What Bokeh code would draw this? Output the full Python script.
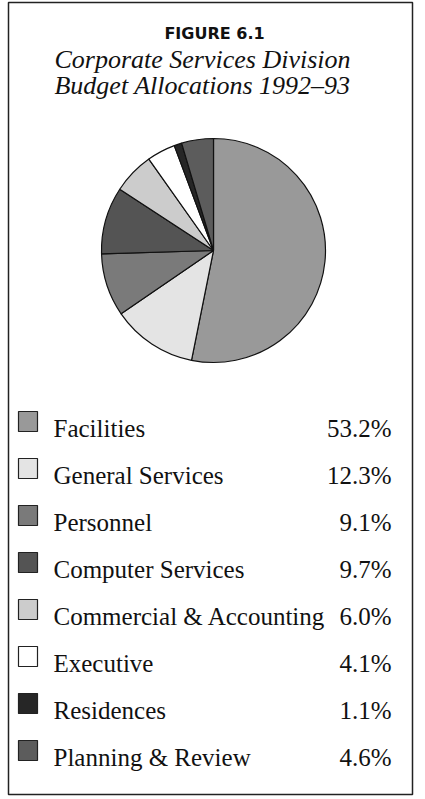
import math
from bokeh.plotting import figure
from bokeh.models import ColumnDataSource, Range1d
from bokeh.core.properties import value
from bokeh.embed import file_html
from bokeh.resources import INLINE

# ---- data ----
figure_label = "FIGURE 6.1"
title_lines = ["Corporate Services Division", "Budget Allocations 1992–93"]
categories = ["Facilities", "General Services", "Personnel", "Computer Services",
              "Commercial & Accounting", "Executive", "Residences", "Planning & Review"]
shares = [53.2, 12.3, 9.1, 9.7, 6.0, 4.1, 1.1, 4.6]

# ---- style ----
fills = ["#999999", "#e4e4e4", "#7a7a7a", "#545454", "#cccccc", "#ffffff", "#262626", "#5c5c5c"]

W, H = 425, 799


def X(rx):
    return rx


def Y(ry):
    return H - ry


total = sum(shares)
starts, ends = [], []
cum = 0.0
for s in shares:
    starts.append(math.pi / 2 - 2 * math.pi * cum / total)
    cum += s
    ends.append(math.pi / 2 - 2 * math.pi * cum / total)

n = len(categories)
row_gap = 47
src = ColumnDataSource(dict(
    cat=categories,
    pct=[f"{v:.1f}%" for v in shares],
    start=starts,
    end=ends,
    fill=fills,
    sy=[Y(421 + row_gap * i) for i in range(n)],
    by=[Y(428 + row_gap * i) for i in range(n)],
))

p = figure(width=W, height=H, x_range=Range1d(0, W), y_range=Range1d(0, H),
           output_backend="svg", toolbar_location=None, min_border=0,
           x_axis_location=None, y_axis_location=None)
p.grid.visible = False
p.outline_line_color = None
p.background_fill_color = "white"
p.border_fill_color = "white"

# frame
p.quad(left=[X(8)], right=[X(412)], top=[Y(2)], bottom=[Y(794)], fill_color=None,
       line_color="#222222", line_width=1.5)

# heading
p.text(x=[X(214)], y=[Y(33)], text=[figure_label], text_font=value("DejaVu Sans"),
       text_font_style="bold", text_font_size="16px", text_align="center",
       text_baseline="alphabetic", text_color="#111111")
for i, line in enumerate(title_lines):
    p.text(x=[X(202)], y=[Y(59 + 26 * i)], text=[line], text_font=value("Liberation Serif"),
           text_font_style="italic", text_font_size="26px", text_align="center",
           text_baseline="alphabetic", text_color="#111111")

# pie
p.wedge(x=X(213), y=Y(250), radius=112, start_angle="start", end_angle="end",
        direction="clock", fill_color="fill", line_color="#111111", line_width=1.2,
        source=src)

# legend
p.rect(x=X(27.5), y="sy", width=19, height=20, fill_color="fill",
       line_color="#222222", line_width=1.2, source=src)
p.text(x=X(53), y="by", text="cat", text_font=value("Liberation Serif"),
       text_font_size="25px", text_align="left", text_baseline="alphabetic",
       text_color="#111111", source=src)
p.text(x=X(391), y="by", text="pct", text_font=value("Liberation Serif"),
       text_font_size="25px", text_align="right", text_baseline="alphabetic",
       text_color="#111111", source=src)

open("out.html", "w").write(file_html(p, INLINE))
